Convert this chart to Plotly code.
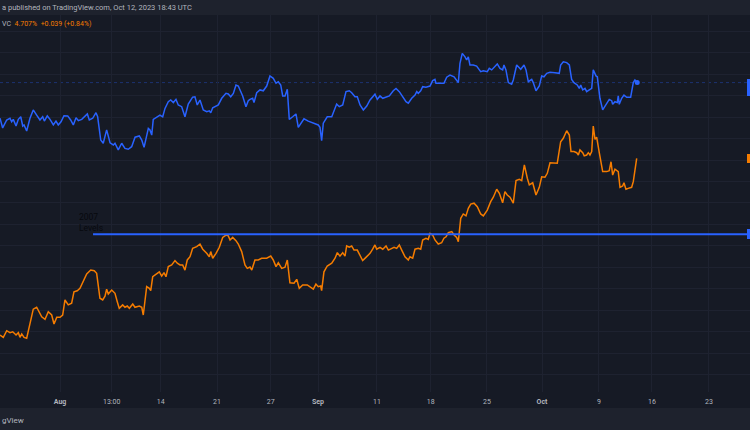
import plotly.graph_objects as go

# ---------------- data (x = trading days from Aug 1 2023, y = yield %) ----------------
blue_x = [-5.65,-5.41,-5.04,-4.74,-4.59,-4.44,-4.19,-3.98,-3.76,-3.58,-3.46,-3.22,-2.92,-2.62,-2.31,-2.01,-1.76,-1.61,-1.34,-1.09,
          -0.79,-0.55,-0.34,-0.09,0.18,0.52,0.79,1.03,1.28,1.49,1.80,2.10,2.31,2.49,2.80,3.10,3.25,3.53,3.76,4.07,
          4.38,4.68,4.83,5.13,5.44,5.74,6.04,6.35,6.66,7.05,7.27,7.48,7.72,7.87,8.02,8.18,8.32,8.63,8.93,9.18,
          9.39,9.69,9.91,10.15,10.39,10.60,10.91,11.21,11.51,11.91,12.12,12.33,12.58,12.88,13.19,13.43,13.56,13.74,13.95,14.25,
          14.56,14.95,15.16,15.38,15.62,15.86,16.07,16.23,16.47,16.77,16.98,17.14,17.38,17.50,17.75,18.05,18.35,18.66,18.96,19.26,
          19.51,19.72,19.94,20.12,20.33,20.54,20.72,21.03,21.33,21.54,21.76,22.06,22.45,22.91,23.36,23.52,23.67,23.82,24.18,24.59,
          24.80,25.04,25.28,25.59,25.89,26.19,26.41,26.71,26.92,27.17,27.47,27.78,28.08,28.32,28.53,28.74,28.99,29.24,29.54,29.84,
          30.20,30.45,30.75,31.06,31.36,31.57,31.88,32.18,32.34,32.48,32.70,32.88,33.18,33.55,33.79,34.00,34.09,34.46,34.82,35.07,
          35.37,35.74,36.04,36.13,36.28,36.49,36.74,36.89,37.04,37.19,37.49,37.80,38.17,38.41,38.77,38.95,39.17,39.47,39.68,39.93,
          40.17,40.29,40.47,40.69,40.99,41.14,41.45,41.82,42.12,42.30,42.51,42.82,42.96,43.21,43.51,43.73,43.94,44.19,44.49,44.94,
          45.33,45.46,45.70,46.01,46.25,46.46,46.67,46.97,47.16,47.29,47.47,47.68,47.83,48.07,48.29,48.43,48.68,48.80,49.04,49.29,
          49.59,49.89,50.11,50.20,50.41,50.62,50.71,50.80,51.02,51.23,51.48,51.84,52.08,52.23,52.44]
blue_y = [4.894,4.849,4.886,4.894,4.878,4.889,4.858,4.889,4.901,4.858,4.863,4.835,4.894,4.933,4.909,4.886,4.901,4.881,4.905,4.889,
          4.863,4.881,4.863,4.878,4.906,4.905,4.886,4.863,4.897,4.883,4.889,4.905,4.914,4.886,4.894,4.920,4.901,4.793,4.778,4.840,
          4.780,4.770,4.778,4.747,4.778,4.754,4.750,4.762,4.806,4.812,4.793,4.759,4.816,4.847,4.840,4.816,4.889,4.899,4.909,4.901,
          4.940,4.971,4.979,4.967,4.982,4.956,4.948,4.901,4.960,4.992,4.994,4.956,4.979,4.933,4.925,4.929,4.920,4.943,4.948,4.956,
          4.987,5.010,5.007,4.994,5.010,5.049,5.044,5.026,4.998,4.948,4.976,4.982,4.987,4.967,5.013,5.026,5.022,5.044,5.091,5.080,
          5.057,5.064,5.049,4.998,4.998,5.029,4.889,4.901,4.914,4.852,4.871,4.892,4.881,4.871,4.863,4.852,4.790,4.871,4.901,4.901,
          4.933,4.960,4.948,4.956,5.018,5.022,5.013,4.994,4.994,4.956,4.933,4.951,4.979,4.994,5.006,4.982,4.998,4.987,4.992,4.998,
          5.022,5.033,5.018,4.992,4.971,4.964,4.987,5.002,5.018,5.010,5.022,5.041,5.038,5.044,5.069,5.075,5.057,5.057,5.057,5.085,
          5.095,5.087,5.064,5.060,5.150,5.196,5.180,5.165,5.180,5.142,5.142,5.137,5.111,5.115,5.111,5.126,5.119,5.134,5.147,5.126,
          5.119,5.142,5.119,5.060,5.052,5.072,5.142,5.122,5.142,5.119,5.064,5.075,5.060,5.022,5.044,5.091,5.087,5.103,5.108,5.106,
          5.103,5.142,5.157,5.153,5.142,5.075,5.060,5.049,5.033,5.049,5.026,5.033,5.018,5.026,5.033,5.119,5.091,5.087,4.987,4.933,
          4.956,4.982,4.976,4.959,4.971,4.967,4.998,4.959,4.987,5.002,4.992,4.992,5.060,5.072,5.060]

orange_x = [-5.65,-5.35,-5.04,-4.74,-4.49,-4.19,-3.98,-3.83,-3.67,-3.46,-3.22,-2.98,-2.76,-2.62,-2.31,-2.07,-1.85,-1.55,-1.25,-0.94,
            -0.73,-0.48,-0.18,0.06,0.27,0.57,0.88,1.09,1.39,1.64,1.94,2.25,2.62,2.94,3.16,3.46,3.71,3.92,4.07,4.22,
            4.53,4.83,5.04,5.22,5.53,5.74,5.95,6.14,6.45,6.65,7.05,7.27,7.41,7.72,7.96,8.09,8.27,8.63,8.87,9.09,
            9.30,9.48,9.69,10.00,10.30,10.51,10.76,11.00,11.21,11.42,11.67,11.91,12.28,12.58,12.83,13.19,13.43,13.56,13.74,14.04,
            14.34,14.65,14.95,15.16,15.32,15.56,15.86,16.07,16.38,16.68,16.89,17.14,17.30,17.59,17.89,18.20,18.66,19.03,19.26,19.51,
            19.72,20.03,20.33,20.54,20.78,21.15,21.40,21.63,21.94,22.36,22.67,22.91,23.15,23.36,23.58,23.67,23.88,24.18,24.59,24.89,
            25.10,25.34,25.59,25.80,25.95,26.19,26.41,26.62,26.92,27.17,27.41,27.71,28.08,28.32,28.53,28.69,28.99,29.24,29.54,29.75,
            30.06,30.27,30.51,30.75,30.97,31.27,31.57,31.72,31.97,32.18,32.48,32.70,32.88,33.18,33.39,33.55,33.79,34.00,34.30,34.61,
            34.82,35.01,35.22,35.53,35.74,35.98,36.13,36.35,36.58,36.83,37.04,37.26,37.56,37.86,38.17,38.41,38.77,39.08,39.32,39.63,
            39.87,40.17,40.38,40.59,40.84,41.14,41.39,41.69,41.91,42.15,42.42,42.60,42.91,43.21,43.51,43.73,44.03,44.24,44.49,44.85,
            45.15,45.46,45.70,46.01,46.25,46.40,46.67,46.92,47.07,47.22,47.47,47.61,47.83,47.98,48.13,48.29,48.43,48.59,48.74,48.98,
            49.29,49.66,49.89,50.05,50.20,50.41,50.71,50.87,51.11,51.23,51.41,51.62,51.93,52.08,52.23,52.39]
orange_y = [3.886,3.875,3.906,3.897,3.901,3.886,3.897,3.875,3.891,3.875,3.871,3.925,3.971,4.006,4.015,3.994,3.971,3.959,3.994,3.979,
            3.937,3.968,3.968,3.979,4.049,4.026,4.034,4.087,4.092,4.103,4.139,4.170,4.188,4.185,4.173,4.057,4.049,4.067,4.099,4.077,
            4.095,4.080,4.041,4.010,4.026,4.015,4.021,4.010,4.030,4.015,4.021,4.015,3.979,4.111,4.103,4.092,4.157,4.170,4.180,4.160,
            4.176,4.157,4.204,4.212,4.232,4.220,4.212,4.212,4.188,4.235,4.250,4.289,4.297,4.309,4.285,4.266,4.250,4.274,4.243,4.266,
            4.294,4.340,4.351,4.347,4.328,4.340,4.325,4.309,4.274,4.212,4.196,4.202,4.188,4.235,4.235,4.243,4.243,4.253,4.235,4.204,
            4.222,4.196,4.201,4.235,4.129,4.127,4.145,4.103,4.119,4.119,4.108,4.099,4.123,4.111,4.114,4.092,4.180,4.207,4.220,4.243,
            4.269,4.253,4.269,4.253,4.300,4.294,4.300,4.281,4.281,4.258,4.232,4.247,4.266,4.285,4.305,4.285,4.294,4.285,4.300,4.281,
            4.289,4.294,4.289,4.305,4.281,4.250,4.235,4.250,4.243,4.285,4.289,4.285,4.328,4.336,4.331,4.359,4.351,4.328,4.309,4.315,
            4.336,4.343,4.362,4.367,4.351,4.340,4.320,4.429,4.449,4.440,4.475,4.495,4.499,4.483,4.449,4.440,4.467,4.506,4.527,4.564,
            4.545,4.501,4.553,4.537,4.527,4.499,4.604,4.610,4.604,4.677,4.615,4.584,4.594,4.537,4.573,4.622,4.620,4.638,4.687,4.687,
            4.685,4.785,4.801,4.836,4.816,4.739,4.739,4.734,4.723,4.747,4.734,4.719,4.723,4.734,4.723,4.739,4.858,4.796,4.806,4.734,
            4.646,4.646,4.650,4.692,4.630,4.657,4.646,4.573,4.579,4.594,4.564,4.568,4.573,4.599,4.653,4.708]

level_2007 = 4.355
level_start = 2.83

tick_vals = [-0.18, 4.53, 9.0, 14.13, 19.02, 23.34, 28.71, 33.61, 38.74, 43.76, 48.95, 53.78, 58.98]
tick_text = ["<b>Aug</b>", "13:00", "14", "21", "27", "<b>Sep</b>", "11", "18", "25", "<b>Oct</b>", "9", "16", "23"]

header_text = "a published on TradingView.com, Oct 12, 2023 18:43 UTC"
legend_sym = "VC"
legend_last = "4.707%"
legend_chg = "+0.039 (+0.84%)"
footer_text = "gView"

# ---------------- layout geometry ----------------
W, H = 750, 430
T, B = 15, 38
PH = H - T - B
X_RANGE = [-5.652, 62.72]
Y_RANGE = [3.6209, 5.3744]


def py(p):
    """pixel row -> paper y"""
    return (H - B - p) / PH


BLUE = "#2962ff"
ORANGE = "#f57c00"
PANE = "#161a25"
BAND = "#1e222d"
GRID = "#1e2230"
TXT = "#b2b5be"

fig = go.Figure()
fig.add_trace(go.Scatter(x=blue_x, y=blue_y, mode="lines",
                         line=dict(color=BLUE, width=1.5), hoverinfo="skip"))
fig.add_trace(go.Scatter(x=orange_x, y=orange_y, mode="lines",
                         line=dict(color=ORANGE, width=1.5), hoverinfo="skip"))
fig.add_trace(go.Scatter(x=[blue_x[-1]], y=[blue_y[-1]], mode="markers",
                         marker=dict(color=BLUE, size=5), hoverinfo="skip"))
# 2007 level line
fig.add_trace(go.Scatter(x=[level_start, X_RANGE[1]], y=[level_2007, level_2007], mode="lines",
                         line=dict(color=BLUE, width=2), hoverinfo="skip"))

shapes = [
    # header / footer bands
    dict(type="rect", xref="paper", yref="paper", x0=0, x1=1, y0=1, y1=py(0), fillcolor=BAND, line_width=0, layer="below"),
    dict(type="rect", xref="paper", yref="paper", x0=0, x1=1, y0=py(408), y1=py(430), fillcolor=BAND, line_width=0, layer="below"),
    # price line of blue series
    dict(type="line", xref="paper", yref="y", x0=0, x1=1, y0=blue_y[-1], y1=blue_y[-1],
         line=dict(color="rgba(41,98,255,0.35)", width=1, dash="dot"), layer="below"),
    # right-edge price tags
    dict(type="rect", xref="paper", yref="paper", x0=1 - 3 / W, x1=1, y0=py(96), y1=py(79), fillcolor=BLUE, line_width=0),
    dict(type="rect", xref="paper", yref="paper", x0=1 - 3 / W, x1=1, y0=py(163), y1=py(154), fillcolor=ORANGE, line_width=0),
    dict(type="rect", xref="paper", yref="paper", x0=1 - 3 / W, x1=1, y0=py(239), y1=py(229), fillcolor=BLUE, line_width=0),
]

FONT = "Roboto, Liberation Sans, sans-serif"
annotations = [
    dict(text=header_text, xref="paper", yref="paper", x=0, y=py(8), xanchor="left", yanchor="middle",
         showarrow=False, font=dict(family=FONT, size=7.5, color=TXT)),
    dict(text=f"{legend_sym}  <span style='color:{ORANGE}'>{legend_last}  {legend_chg}</span>", xref="paper", yref="paper",
         x=0, y=py(24), xanchor="left", yanchor="middle", showarrow=False,
         font=dict(family=FONT, size=7, color=TXT)),
    dict(text="2007<br>Levels", xref="x", yref="paper", x=(77 - 62) / 10.97, y=py(222), xanchor="left", yanchor="middle",
         align="left", showarrow=False, font=dict(family=FONT, size=8.5, color="#07090e")),
    dict(text=footer_text, xref="paper", yref="paper", x=0, y=py(420), xanchor="left", yanchor="middle",
         showarrow=False, font=dict(family=FONT, size=8, color=TXT)),
]

fig.update_layout(
    width=W, height=H,
    margin=dict(l=0, r=0, t=T, b=B),
    paper_bgcolor=PANE, plot_bgcolor=PANE,
    showlegend=False,
    shapes=shapes, annotations=annotations,
    xaxis=dict(range=X_RANGE, tickmode="array", tickvals=tick_vals, ticktext=tick_text,
               showgrid=True, gridcolor=GRID, gridwidth=1, zeroline=False, showline=False,
               ticks="", ticklabelstandoff=4, tickfont=dict(family=FONT, size=7, color=TXT), fixedrange=True),
    yaxis=dict(range=Y_RANGE, tick0=0, dtick=0.1, showticklabels=False, showgrid=True,
               gridcolor=GRID, gridwidth=1, zeroline=False, showline=False, fixedrange=True),
)

fig.write_html("out.html", config={"displayModeBar": False})

# remove the default page margin so the figure sits at the window's top-left corner
with open("out.html", "r", encoding="utf-8") as f:
    html = f.read()
html = html.replace("<head>", "<head><style>html,body{margin:0;padding:0;overflow:hidden;background:#161a25;}</style>", 1)
with open("out.html", "w", encoding="utf-8") as f:
    f.write(html)
